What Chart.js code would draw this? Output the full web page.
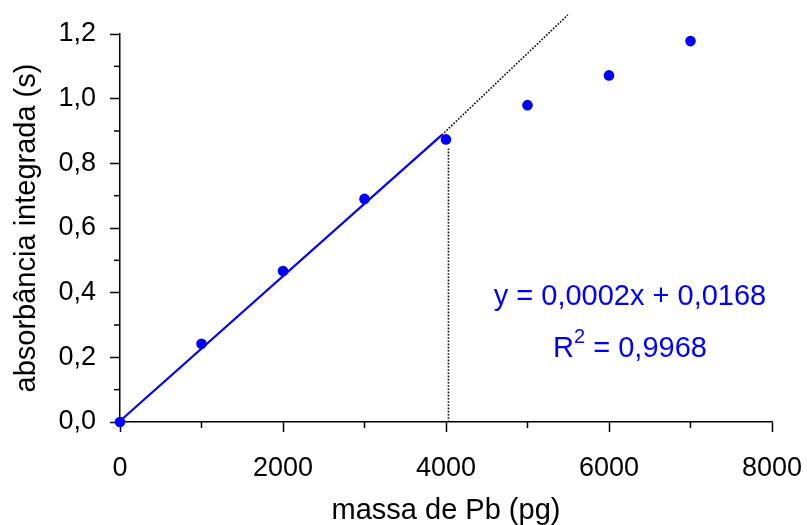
<!DOCTYPE html>
<html>
<head>
<meta charset="utf-8">
<script src="https://cdn.jsdelivr.net/npm/chart.js@4/dist/chart.umd.min.js"></script>
<style>
    * { margin: 0; padding: 0; }
    body { width: 807px; height: 525px; background: #fff; overflow: hidden; }
    .wrap { position: relative; width: 807px; height: 525px; }
    .eq {
        position: absolute;
        left: 480px;
        width: 300px;
        text-align: center;
        font-family: "Liberation Sans", Arial, sans-serif;
        font-size: 29px;
        color: #0000ff;
        line-height: 1;
    }
    .eq sup { font-size: 20px; vertical-align: 14px; line-height: 0; }
</style>
</head>
<body>
<div class="wrap">
    <canvas id="grafico" width="807" height="525"></canvas>
    <div class="eq" style="top: 281px;">y = 0,0002x + 0,0168</div>
    <div class="eq" style="top: 333px;">R<sup>2</sup> = 0,9968</div>
</div>
<script>
// dados
const massas = [0, 1000, 2000, 3000, 4000, 5000, 6000, 7000];
const absorbancias = [0.0, 0.242, 0.467, 0.690, 0.874, 0.980, 1.072, 1.178];

// reta de calibração (parte linear) e prolongamento pontilhado
const retaX = [0, 3950];
const retaY = [0.003, 0.888];
const prolongX = [3950, 5495];
const prolongY = [0.888, 1.259];
const verticalX = [4030, 4030];
const verticalY = [0, 0.85];

const xTicks = [0, 2000, 4000, 6000, 8000];
const yTicks = [0, 0.2, 0.4, 0.6, 0.8, 1.0, 1.2];

const fonte = "'Liberation Sans', Arial, sans-serif";

function pares(xs, ys) {
    return xs.map((x, i) => ({ x: x, y: ys[i] }));
}

// ticks menores (entre os maiores)
const ticksMenores = {
    id: "ticksMenores",
    afterDraw(chart) {
        const ctx = chart.ctx;
        const xs = chart.scales.x;
        const ys = chart.scales.y;
        ctx.save();
        ctx.strokeStyle = "#000";
        ctx.lineWidth = 1.5;
        for (let i = 0; i < xTicks.length - 1; i++) {
            const px = xs.getPixelForValue((xTicks[i] + xTicks[i + 1]) / 2);
            ctx.beginPath();
            ctx.moveTo(px, xs.top);
            ctx.lineTo(px, xs.top + 6);
            ctx.stroke();
        }
        for (let i = 0; i < yTicks.length - 1; i++) {
            const py = ys.getPixelForValue((yTicks[i] + yTicks[i + 1]) / 2);
            ctx.beginPath();
            ctx.moveTo(ys.right, py);
            ctx.lineTo(ys.right - 6, py);
            ctx.stroke();
        }
        ctx.restore();
    }
};

new Chart(document.getElementById("grafico"), {
    type: "scatter",
    data: {
        datasets: [
            {
                label: "vertical",
                data: pares(verticalX, verticalY),
                showLine: true,
                borderColor: "#000",
                borderWidth: 1.6,
                borderDash: [1.6, 1.6],
                pointRadius: 0,
                clip: false
            },
            {
                label: "prolongamento",
                data: pares(prolongX, prolongY),
                showLine: true,
                borderColor: "#000",
                borderWidth: 1.6,
                borderDash: [1.6, 1.6],
                pointRadius: 0,
                clip: false
            },
            {
                label: "reta",
                data: pares(retaX, retaY),
                showLine: true,
                borderColor: "#0000ff",
                borderWidth: 2.2,
                pointRadius: 0,
                clip: false
            },
            {
                label: "absorbância",
                data: pares(massas, absorbancias),
                showLine: false,
                backgroundColor: "#0000ff",
                borderColor: "#0000ff",
                pointRadius: 5.3,
                pointBorderWidth: 0,
                clip: false
            }
        ]
    },
    options: {
        responsive: false,
        animation: false,
        layout: { padding: { top: 34, right: 35, left: 0, bottom: 0 } },
        plugins: {
            legend: { display: false },
            tooltip: { enabled: false }
        },
        scales: {
            x: {
                type: "linear",
                min: 0,
                max: 8000,
                afterBuildTicks: s => { s.ticks = xTicks.map(v => ({ value: v })); },
                afterFit: s => { s.height = 103; s.paddingLeft = 0; s.paddingRight = 0; },
                border: { display: true, color: "#000", width: 1.5 },
                grid: { drawOnChartArea: false, drawTicks: true, tickLength: 10, tickColor: "#000", tickWidth: 1.5 },
                ticks: {
                    color: "#000",
                    font: { family: fonte, size: 27 },
                    padding: 20,
                    maxRotation: 0,
                    callback: v => String(v)
                },
                title: {
                    display: true,
                    text: "massa de Pb (pg)",
                    color: "#000",
                    font: { family: fonte, size: 29 },
                    padding: { top: 0, bottom: -3 }
                }
            },
            y: {
                type: "linear",
                min: 0,
                max: 1.2,
                afterBuildTicks: s => { s.ticks = yTicks.map(v => ({ value: v })); },
                afterFit: s => { s.width = 120; s.paddingTop = 0; s.paddingBottom = 0; },
                border: { display: true, color: "#000", width: 1.5 },
                grid: { drawOnChartArea: false, drawTicks: true, tickLength: 10, tickColor: "#000", tickWidth: 1.5 },
                ticks: {
                    color: "#000",
                    font: { family: fonte, size: 27 },
                    padding: 14,
                    callback: v => v.toFixed(1).replace(".", ",")
                },
                title: {
                    display: true,
                    text: "absorbância integrada (s)",
                    color: "#000",
                    font: { family: fonte, size: 29 },
                    padding: { top: 10, bottom: 0 }
                }
            }
        }
    },
    plugins: [ticksMenores]
});
</script>
</body>
</html>
